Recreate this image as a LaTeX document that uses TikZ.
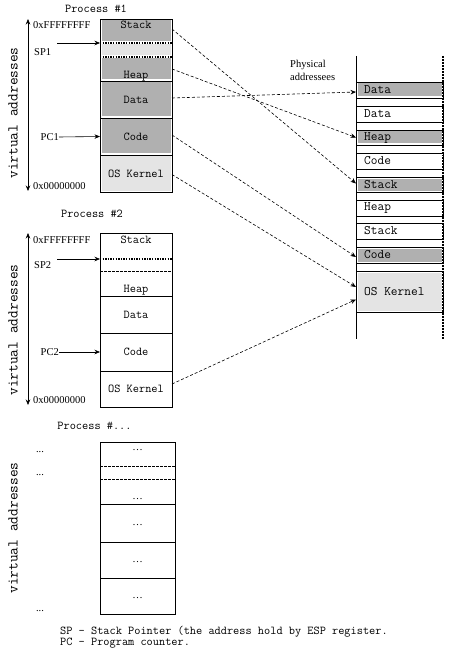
\documentclass[tikz,border=0pt]{standalone}
\usepackage{fontspec}
\setmainfont{Liberation Serif}
\newfontfamily\monof{Latin Modern Mono}
\usetikzlibrary{arrows.meta}
\definecolor{dgrey}{RGB}{176,176,176}
\definecolor{lgrey}{RGB}{228,228,228}
\begin{document}
\begin{tikzpicture}[x=1pt,y=-1pt,
  seg/.style={anchor=north west, inner sep=0, outer sep=0, minimum width=72pt},
  seg3/.style={seg, minimum width=75pt},
  pseg/.style={seg, minimum width=87pt},
  gfill/.style={fill=dgrey, draw=white, line width=3pt},
  lfill/.style={fill=lgrey, draw=white, line width=3pt},
  mtext/.style={font=\monof\fontsize{12}{13}\selectfont, inner sep=0},
  stext/.style={font=\fontsize{10.5}{12}\selectfont, inner sep=0},
  ptext/.style={font=\monof\fontsize{13}{14}\selectfont, inner sep=0, anchor=west},
  va/.style={font=\monof\fontsize{15}{16}\selectfont, rotate=90, inner sep=0},
  sep/.style={line width=0.6pt},
  dots/.style={line width=1.3pt, dash pattern=on 1.3pt off 1.3pt},
  dsh/.style={line width=0.5pt, dash pattern=on 2.5pt off 1.5pt},
  conn/.style={line width=0.6pt, dash pattern=on 3pt off 2pt, -{Stealth[length=5.5pt,width=4.5pt]}},
  ptr/.style={line width=0.6pt, -{Stealth[length=5.5pt,width=4.5pt]}},
  vaxis/.style={line width=0.6pt, {Stealth[length=5.5pt,width=4.5pt]}-{Stealth[length=5.5pt,width=4.5pt]}}]
\useasboundingbox (0,0) rectangle (474,663);

% ---------------- Process #1 ----------------
\node[mtext] (t1) at (96,9) {Process \#1};
\node[seg, gfill, minimum height=24pt] (p1stack) at (100,19) {};
\node[seg, lfill, minimum height=14pt] (p1free) at (100,43) {};
\node[seg, gfill, minimum height=24pt] (p1heap) at (100,57) {};
\node[seg, gfill, minimum height=37pt] (p1data) at (100,81) {};
\node[seg, gfill, minimum height=37pt] (p1code) at (100,118) {};
\node[seg, lfill, minimum height=37pt] (p1os) at (100,155) {};
\node[mtext] (l1stack) at (136,25) {Stack};
\node[mtext] (l1heap) at (136,76) {Heap};
\node[mtext] (l1data) at (p1data.center) {Data};
\node[mtext] (l1code) at (p1code.center) {Code};
\node[mtext] (l1os) at (p1os.center) {OS Kernel};
\draw[sep] (p1stack.north west) rectangle (p1os.south east);
\draw[sep] (p1data.north west) -- (p1data.north east);
\draw[sep] (p1code.north west) -- (p1code.north east);
\draw[sep] (p1os.north west) -- (p1os.north east);
\draw[dots] (p1free.north west) -- (p1free.north east);
\draw[dots] (p1free.south west) -- (p1free.south east);
\coordinate (a1t) at (28,19);
\coordinate (a1b) at (28,191);
\draw[vaxis] (a1t) -- (a1b);
\node[va] (va1) at (13,113) {virtual addresses};
\node[stext, anchor=west] (hi1) at (33,25) {0xFFFFFFFF};
\node[stext, anchor=west] (lo1) at (33,186) {0x00000000};
\node[stext, anchor=west] (sp1) at (34,52) {SP1};
\coordinate (sp1s) at (57,43);
\draw[ptr] (sp1s) -- (p1free.north west);
\node[stext, anchor=east] (pc1) at (59,137) {PC1};
\draw[ptr] (pc1.east) -- (p1code.west);

% ---------------- Process #2 ----------------
\node[mtext] (t2) at (92,214) {Process \#2};
\node[seg, minimum height=26pt] (p2stack) at (100,233) {};
\node[seg, minimum height=12pt] (p2free) at (100,259) {};
\node[seg, minimum height=25pt] (p2heap) at (100,271) {};
\node[seg, minimum height=37pt] (p2data) at (100,296) {};
\node[seg, minimum height=38pt] (p2code) at (100,333) {};
\node[seg, minimum height=36pt] (p2os) at (100,371) {};
\node[mtext] (l2stack) at (136,240) {Stack};
\node[mtext] (l2heap) at (136,290) {Heap};
\node[mtext] (l2data) at (136,315) {Data};
\node[mtext] (l2code) at (136,352) {Code};
\node[mtext] (l2os) at (136,389) {OS Kernel};
\draw[sep] (p2stack.north west) rectangle (p2os.south east);
\draw[sep] (p2data.north west) -- (p2data.north east);
\draw[sep] (p2code.north west) -- (p2code.north east);
\draw[sep] (p2os.north west) -- (p2os.north east);
\draw[dots] (p2free.north west) -- (p2free.north east);
\draw[dsh] (p2free.south west) -- (p2free.south east);
\coordinate (a2t) at (28,233);
\coordinate (a2b) at (28,405);
\draw[vaxis] (a2t) -- (a2b);
\node[va] (va2) at (13,330) {virtual addresses};
\node[stext, anchor=west] (hi2) at (33,240) {0xFFFFFFFF};
\node[stext, anchor=west] (lo2) at (33,400) {0x00000000};
\node[stext, anchor=west] (sp2) at (34,265) {SP2};
\coordinate (sp2s) at (57,259);
\draw[ptr] (sp2s) -- (p2free.north west);
\node[stext, anchor=east] (pc2) at (59,352) {PC2};
\draw[ptr] (pc2.east) -- (p2code.west);

% ---------------- Process #... ----------------
\node[mtext] (t3) at (94.5,426) {Process \#...};
\node[seg3, minimum height=24pt] (p3a) at (100,442) {};
\node[seg3, minimum height=13pt] (p3b) at (100,466) {};
\node[seg3, minimum height=25pt] (p3c) at (100,479) {};
\node[seg3, minimum height=38pt] (p3d) at (100,504) {};
\node[seg3, minimum height=36pt] (p3e) at (100,542) {};
\node[seg3, minimum height=36pt] (p3f) at (100,578) {};
\node[stext] (l3a) at (137.5,450) {…};
\node[stext] (l3c) at (137.5,499) {…};
\node[stext] (l3d) at (137.5,525) {…};
\node[stext] (l3e) at (137.5,562) {…};
\node[stext] (l3f) at (137.5,598) {…};
\draw[sep] (p3a.north west) rectangle (p3f.south east);
\draw[dsh] (p3b.north west) -- (p3b.north east);
\draw[dsh] (p3b.south west) -- (p3b.south east);
\draw[sep] (p3d.north west) -- (p3d.north east);
\draw[sep] (p3e.north west) -- (p3e.north east);
\draw[sep] (p3f.north west) -- (p3f.north east);
\node[va] (va3) at (13,528) {virtual addresses};
\node[stext] (d31) at (40,452) {...};
\node[stext] (d32) at (40,475) {...};
\node[stext] (d33) at (40,611) {...};

% ---------------- footer ----------------
\node[mtext, anchor=west] (f1) at (60,632) {SP - Stack Pointer (the address hold by ESP register.};
\node[mtext, anchor=west] (f2) at (60,643) {PC - Program counter.};

% ---------------- Physical memory ----------------
\node[font=\fontsize{10.5}{13}\selectfont, inner sep=0, anchor=west, align=left] (phys) at (290,70.5) {Physical\\addressees};
\node[pseg, gfill, minimum height=16pt] (ph1) at (356,82) {};
\node[pseg, minimum height=16pt] (ph2) at (356,106) {};
\node[pseg, gfill, minimum height=15pt] (ph3) at (356,130) {};
\node[pseg, minimum height=16pt] (ph4) at (356,153) {};
\node[pseg, gfill, minimum height=15pt] (ph5) at (356,177) {};
\node[pseg, minimum height=16pt] (ph6) at (356,200) {};
\node[pseg, minimum height=16pt] (ph7) at (356,223) {};
\node[pseg, gfill, minimum height=16pt] (ph8) at (356,247) {};
\node[pseg, lfill, minimum height=41pt] (ph9) at (356,271) {};
\foreach \n in {ph1,ph2,ph3,ph4,ph5,ph6,ph7,ph8,ph9}
  \draw[sep] (\n.north west) rectangle (\n.south east);
\draw[sep] (356,56) -- (356,339);
\draw[line width=1.3pt, dash pattern=on 1pt off 0.5pt] (443,56) -- (443,339);
\node[ptext] (q1) at ([xshift=8pt]ph1.west) {Data};
\node[ptext] (q2) at ([xshift=8pt]ph2.west) {Data};
\node[ptext] (q3) at ([xshift=8pt]ph3.west) {Heap};
\node[ptext] (q4) at ([xshift=8pt]ph4.west) {Code};
\node[ptext] (q5) at ([xshift=8pt]ph5.west) {Stack};
\node[ptext] (q6) at ([xshift=8pt]ph6.west) {Heap};
\node[ptext] (q7) at ([xshift=8pt]ph7.west) {Stack};
\node[ptext] (q8) at ([xshift=8pt]ph8.west) {Code};
\node[ptext] (q9) at ([xshift=8pt]ph9.west) {OS Kernel};

% ---------------- mappings ----------------
\draw[conn] ([yshift=2pt]p1stack.east) -- ([yshift=1pt]ph5.west);
\draw[conn] (p1heap.east) -- (ph3.west);
\draw[conn] ([yshift=1.5pt]p1data.east) -- ([yshift=-2pt]ph1.west);
\draw[conn] ([yshift=1.5pt]p1code.east) -- ([yshift=-2pt]ph8.west);
\draw[conn] ([yshift=-1pt]p1os.east) -- ([yshift=4.5pt]ph9.west);
\draw[conn] ([yshift=5pt]p2os.east) -- ([yshift=-8pt]ph9.west);
\end{tikzpicture}
\end{document}
